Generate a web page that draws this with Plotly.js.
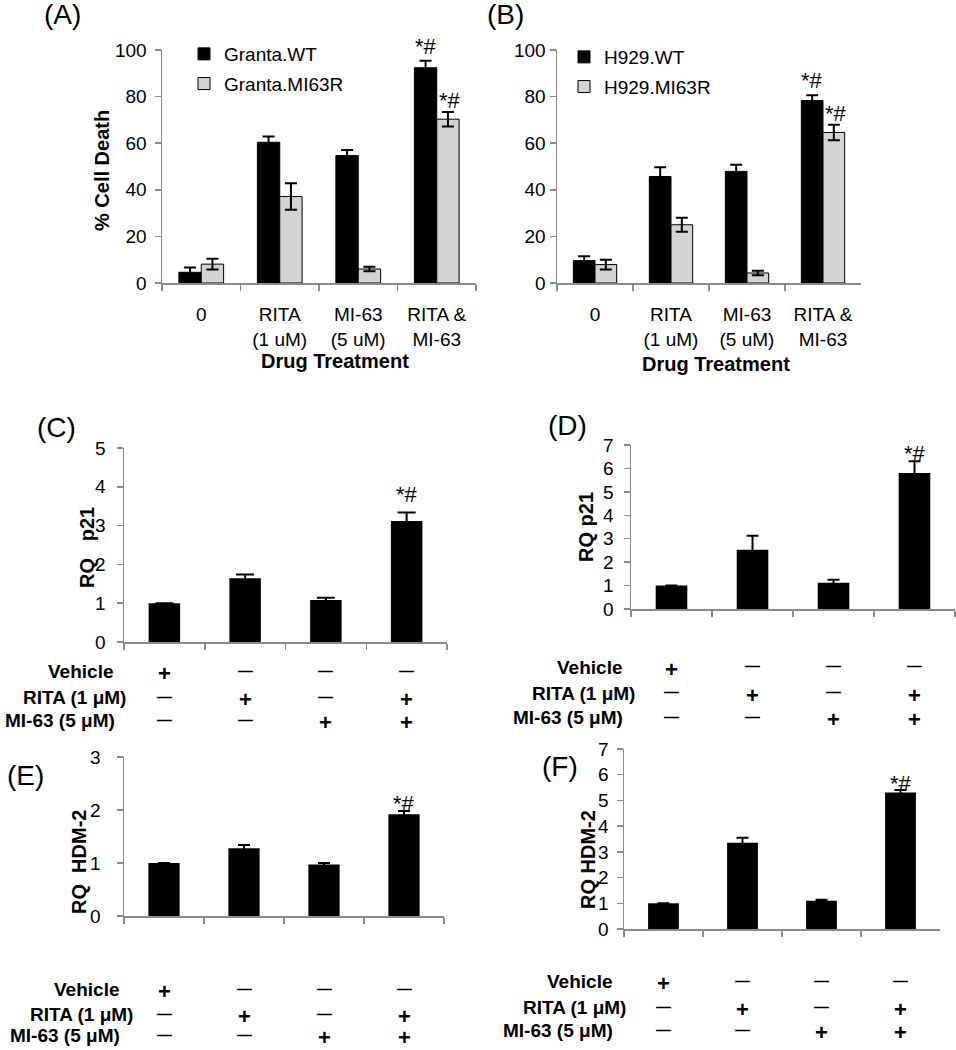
<!DOCTYPE html>
<html>
<head>
<meta charset="utf-8">
<script src="https://cdn.plot.ly/plotly-3.0.1.min.js"></script>
<style>body{margin:0;background:#fff}</style>
</head>
<body>
<div id="fig" style="width:956px;height:1050px"></div>
<script>
// Panels A/B: % cell death by drug treatment
const treatments = ["0", "RITA<br>(1 uM)", "MI-63<br>(5 uM)", "RITA &<br>MI-63"];
const grantaWT = [4.6, 60.4, 54.7, 92.4];
const grantaWTErr = [2.1, 2.5, 2.4, 3.0];
const grantaR = [8.1, 37.1, 6.0, 70.3];
const grantaRErr = [2.3, 5.7, 1.0, 3.1];
const h929WT = [9.6, 45.7, 47.9, 78.3];
const h929WTErr = [1.9, 4.0, 2.8, 2.3];
const h929R = [7.9, 25.0, 4.3, 64.6];
const h929RErr = [2.1, 3.0, 1.0, 3.3];

// Panels C-F: relative quantity (RQ)
const conditions = ["Vehicle", "RITA", "MI-63", "RITA+MI-63"];
const p21C = [1.0, 1.64, 1.08, 3.12];
const p21CErr = [0, 0.10, 0.06, 0.22];
const p21D = [1.0, 2.53, 1.12, 5.81];
const p21DErr = [0, 0.60, 0.13, 0.50];
const hdm2E = [1.0, 1.28, 0.97, 1.92];
const hdm2EErr = [0, 0.06, 0.03, 0.06];
const hdm2F = [1.0, 3.35, 1.10, 5.31];
const hdm2FErr = [0, 0.20, 0.04, 0.10];

// treatment table under C-F
const rowLabels = ["Vehicle", "RITA (1 \u03bcM)", "MI-63 (5 \u03bcM)"];
const vehicleOn = [true, false, false, false];
const ritaOn = [false, true, false, true];
const mi63On = [false, false, true, true];

const W = 956, H = 1050;
const fx = p => p / W;
const fy = p => 1 - p / H;
const FONT = "Liberation Sans, Arial, sans-serif";
const AXIS = "#8a8a8a";
const GRAY = "#d3d3d3";

function xAxis(x0, x1, anchor, labels) {
  return {
    domain: [fx(x0), fx(x1)], anchor: anchor, type: "category",
    range: [-0.5, 3.5], fixedrange: true,
    showline: true, linecolor: AXIS, linewidth: 1.5,
    ticks: "outside", tickson: "boundaries", ticklen: 6, tickcolor: AXIS, tickwidth: 1.5,
    showticklabels: labels, ticklabelstandoff: 14,
    tickfont: {size: 19, color: "#000"}, showgrid: false
  };
}

function yAxis(top, bottom, anchor, max, standoff) {
  return {
    domain: [fy(bottom), fy(top)], anchor: anchor, range: [0, max], dtick: max > 10 ? 20 : 1,
    fixedrange: true, showline: true, linecolor: AXIS, linewidth: 1.5,
    ticks: "outside", ticklen: 6, tickcolor: AXIS, tickwidth: 1.5,
    ticklabelstandoff: standoff, tickfont: {size: 19, color: "#000"},
    showgrid: false, zeroline: false
  };
}

function errs(arr, w) {
  return {type: "data", array: arr, color: "#000", thickness: 2, width: w};
}

const bw = 0.285;
const data = [
  {type: "bar", x: treatments, y: grantaWT, name: "Granta.WT", xaxis: "x", yaxis: "y",
   width: bw, offset: -bw, marker: {color: "#000", line: {color: "#000", width: 1}},
   error_y: errs(grantaWTErr, 6), legend: "legend", legendgroup: "a1"},
  {type: "bar", x: treatments, y: grantaR, name: "Granta.MI63R", xaxis: "x", yaxis: "y",
   width: bw, offset: 0, marker: {color: GRAY, line: {color: "#000", width: 1}},
   error_y: errs(grantaRErr, 6), legend: "legend", legendgroup: "a2"},
  {type: "bar", x: treatments, y: h929WT, name: "H929.WT", xaxis: "x2", yaxis: "y2",
   width: bw, offset: -bw, marker: {color: "#000", line: {color: "#000", width: 1}},
   error_y: errs(h929WTErr, 6), legend: "legend2", legendgroup: "b1"},
  {type: "bar", x: treatments, y: h929R, name: "H929.MI63R", xaxis: "x2", yaxis: "y2",
   width: bw, offset: 0, marker: {color: GRAY, line: {color: "#000", width: 1}},
   error_y: errs(h929RErr, 6), legend: "legend2", legendgroup: "b2"},
  {type: "bar", x: conditions, y: p21C, xaxis: "x3", yaxis: "y3", width: 0.39,
   marker: {color: "#000"}, error_y: errs(p21CErr, 9), showlegend: false},
  {type: "bar", x: conditions, y: p21D, xaxis: "x4", yaxis: "y4", width: 0.39,
   marker: {color: "#000"}, error_y: errs(p21DErr, 6), showlegend: false},
  {type: "bar", x: conditions, y: hdm2E, xaxis: "x5", yaxis: "y5", width: 0.39,
   marker: {color: "#000"}, error_y: errs(hdm2EErr, 6), showlegend: false},
  {type: "bar", x: conditions, y: hdm2F, xaxis: "x6", yaxis: "y6", width: 0.39,
   marker: {color: "#000"}, error_y: errs(hdm2FErr, 6), showlegend: false}
];

const annotations = [];
function text(t, x, y, size, opts) {
  annotations.push(Object.assign({
    text: t, xref: "paper", yref: "paper", x: fx(x), y: fy(y),
    xanchor: "center", yanchor: "middle",
    showarrow: false, font: {size: size, color: "#000", family: FONT}
  }, opts || {}));
}

// panel letters
text("(A)", 42, 15, 28, {xanchor: "left"});
text("(B)", 485, 15, 28, {xanchor: "left"});
text("(C)", 35, 427, 28, {xanchor: "left"});
text("(D)", 546, 425, 28, {xanchor: "left"});
text("(E)", 5, 775, 28, {xanchor: "left"});
text("(F)", 540, 766, 28, {xanchor: "left"});

// axis titles
text("<b>% Cell Death</b>", 102, 171, 20, {textangle: -90});
text("<b>Drug Treatment</b>", 335, 361, 20);
text("<b>Drug Treatment</b>", 716, 364, 20);
text("<b>RQ\u00a0\u00a0\u00a0p21</b>", 87, 548, 20, {textangle: -90});
text("<b>RQ p21</b>", 586, 527, 20, {textangle: -90});
text("<b>RQ\u00a0\u00a0HDM-2</b>", 79, 862, 20, {textangle: -90});
text("<b>RQ HDM-2</b>", 588, 860, 20, {textangle: -90});

// significance marks
function star(xa, ya, cat, yv, dx, dy) {
  annotations.push({text: "*#", xref: xa, yref: ya, x: cat, y: yv, xshift: dx, yshift: dy,
    xanchor: "center", yanchor: "bottom", showarrow: false,
    font: {size: 22, color: "#000", family: FONT}});
}
star("x", "y", treatments[3], grantaWT[3] + grantaWTErr[3], -11, 0);
star("x", "y", treatments[3], grantaR[3] + grantaRErr[3], 13, -3);
star("x2", "y2", treatments[3], h929WT[3] + h929WTErr[3], -11, 0);
star("x2", "y2", treatments[3], h929R[3] + h929RErr[3], 13, -3);
star("x3", "y3", conditions[3], p21C[3] + p21CErr[3], 0, 3);
star("x4", "y4", conditions[3], p21D[3] + p21DErr[3], 0, -7);
star("x5", "y5", conditions[3], hdm2E[3] + hdm2EErr[3], 0, -7);
star("x6", "y6", conditions[3], hdm2F[3] + hdm2FErr[3], 0, -8);

// +/- treatment tables
function table(xa, rowsY, labelRight) {
  const rows = [vehicleOn, ritaOn, mi63On];
  rows.forEach((row, r) => {
    text("<b>" + rowLabels[r] + "</b>", labelRight[r], rowsY[r], 19, {xanchor: "right"});
    row.forEach((on, i) => {
      annotations.push({
        text: on ? "<b>+</b>" : "<b>\u2014</b>", xref: xa, yref: "paper",
        x: conditions[i], y: fy(rowsY[r] + (on ? 2 : -1)), showarrow: false,
        xanchor: "center", yanchor: "middle", borderpad: 0,
        font: {size: on ? 22 : 15, color: "#000", family: FONT}
      });
    });
  });
}
table("x3", [671, 697, 720], [116, 128, 117]);
table("x4", [667, 693, 717], [625, 637, 625]);
table("x5", [989, 1014, 1035], [122, 135, 122]);
table("x6", [981, 1007, 1030], [615, 628, 615]);

const legendStyle = {
  xanchor: "left", yanchor: "top", bgcolor: "rgba(0,0,0,0)",
  font: {size: 19, color: "#000", family: FONT}, tracegroupgap: 2, itemwidth: 30
};

const layout = {
  width: W, height: H, margin: {l: 0, r: 0, t: 0, b: 0},
  paper_bgcolor: "#fff", plot_bgcolor: "rgba(0,0,0,0)",
  font: {family: FONT, color: "#000"},
  barmode: "overlay",
  xaxis: xAxis(162, 476, "y", true),
  yaxis: yAxis(50, 283, "x", 100, 4),
  xaxis2: xAxis(557, 861, "y2", true),
  yaxis2: yAxis(50, 283, "x2", 100, 0),
  xaxis3: xAxis(124, 447, "y3", false),
  yaxis3: yAxis(448, 642, "x3", 5, 7),
  xaxis4: xAxis(631, 955, "y4", false),
  yaxis4: yAxis(445, 609, "x4", 7, 6),
  xaxis5: xAxis(124, 444, "y5", false),
  yaxis5: yAxis(757, 916, "x5", 3, 12),
  xaxis6: xAxis(624, 940, "y6", false),
  yaxis6: yAxis(749, 929, "x6", 7, 4),
  legend: Object.assign({x: fx(184), y: fy(35)}, legendStyle),
  legend2: Object.assign({x: fx(564), y: fy(38)}, legendStyle),
  annotations: annotations
};

Plotly.newPlot("fig", data, layout, {staticPlot: true});
</script>
</body>
</html>
